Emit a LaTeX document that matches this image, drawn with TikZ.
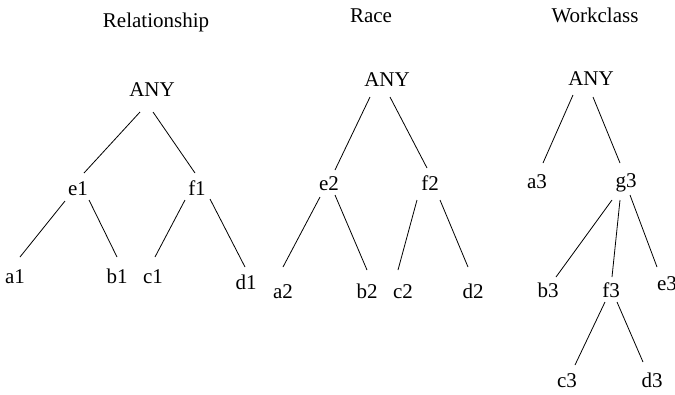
\documentclass[tikz,border=0pt]{standalone}
\usepackage{fontspec}
\setmainfont{Liberation Serif}
\begin{document}
\begin{tikzpicture}[x=1pt,y=1pt,
  lbl/.style={inner sep=0pt, anchor=base, font=\fontsize{21}{25}\selectfont},
  branch/.style={line width=0.8pt, black}]
\useasboundingbox (0,0) rectangle (675,-394);

% titles
\node[lbl] (tR) at (156,-27) {Relationship};
\node[lbl] (tS) at (371,-22) {Race};
\node[lbl] (tW) at (595,-22) {Workclass};

% Relationship hierarchy
\node[lbl] (r0) at (152,-96) {ANY};
\node[lbl] (e1) at (78,-195) {e1};
\node[lbl] (f1) at (197,-195) {f1};
\node[lbl] (a1) at (15,-283) {a1};
\node[lbl] (b1) at (117,-283) {b1};
\node[lbl] (c1) at (153,-283) {c1};
\node[lbl] (d1) at (246,-289) {d1};

\draw[branch] ([shift={(-12,-16)}]r0.base) -- ([shift={(6,22)}]e1.base);
\draw[branch] ([shift={(1,-16)}]r0.base) -- ([shift={(-2,22)}]f1.base);
\draw[branch] ([shift={(-13,-6)}]e1.base) -- ([shift={(5,26)}]a1.base);
\draw[branch] ([shift={(11,-5)}]e1.base) -- ([shift={(0,26)}]b1.base);
\draw[branch] ([shift={(-12,-5)}]f1.base) -- ([shift={(2,26)}]c1.base);
\draw[branch] ([shift={(13,-4)}]f1.base) -- ([shift={(-1,22)}]d1.base);

% Race hierarchy
\node[lbl] (s0) at (387,-86) {ANY};
\node[lbl] (e2) at (329,-190) {e2};
\node[lbl] (f2) at (430,-190) {f2};
\node[lbl] (a2) at (283,-298) {a2};
\node[lbl] (b2) at (367,-298) {b2};
\node[lbl] (c2) at (403,-298) {c2};
\node[lbl] (d2) at (473,-298) {d2};

\draw[branch] ([shift={(-17,-11)}]s0.base) -- ([shift={(6,20)}]e2.base);
\draw[branch] ([shift={(3,-11)}]s0.base) -- ([shift={(-3,22)}]f2.base);
\draw[branch] ([shift={(-9,-7)}]e2.base) -- ([shift={(0,31)}]a2.base);
\draw[branch] ([shift={(6,-5)}]e2.base) -- ([shift={(0,28)}]b2.base);
\draw[branch] ([shift={(-13,-10)}]f2.base) -- ([shift={(-5,28)}]c2.base);
\draw[branch] ([shift={(10,-10)}]f2.base) -- ([shift={(-5,31)}]d2.base);

% Workclass hierarchy
\node[lbl] (w0) at (591,-85) {ANY};
\node[lbl] (a3) at (537,-188) {a3};
\node[lbl] (g3) at (626,-187) {g3};
\node[lbl] (b3) at (548,-297) {b3};
\node[lbl] (f3) at (611,-297) {f3};
\node[lbl] (e3) at (667,-290) {e3};
\node[lbl] (c3) at (567,-387) {c3};
\node[lbl] (d3) at (652,-387) {d3};

\draw[branch] ([shift={(-18,-10)}]w0.base) -- ([shift={(6,25)}]a3.base);
\draw[branch] ([shift={(2,-12)}]w0.base) -- ([shift={(-6,24)}]g3.base);
\draw[branch] ([shift={(-14,-13)}]g3.base) -- ([shift={(8,20)}]b3.base);
\draw[branch] ([shift={(-6,-13)}]g3.base) -- ([shift={(1,20)}]f3.base);
\draw[branch] ([shift={(4,-8)}]g3.base) -- ([shift={(-10,23)}]e3.base);
\draw[branch] ([shift={(-6,-5)}]f3.base) -- ([shift={(8,22)}]c3.base);
\draw[branch] ([shift={(6,-5)}]f3.base) -- ([shift={(-9,25)}]d3.base);
\end{tikzpicture}
\end{document}
